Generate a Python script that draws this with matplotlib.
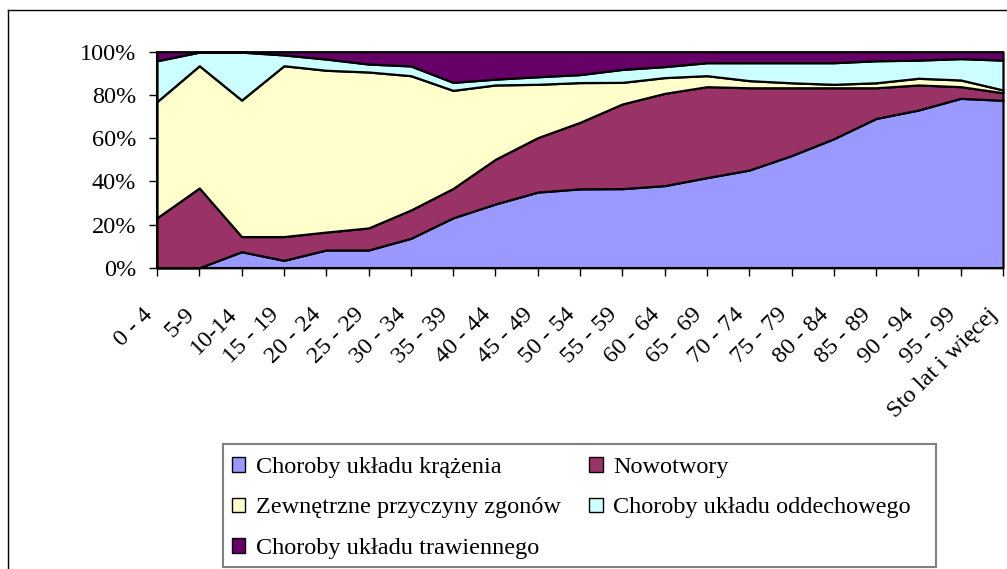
import numpy as np
import matplotlib
matplotlib.use("Agg")
import matplotlib.pyplot as plt
import matplotlib.transforms as mtransforms
from matplotlib.patches import Patch, Rectangle
from matplotlib.lines import Line2D

plt.rcParams['font.family'] = ['Liberation Serif', 'DejaVu Serif']

# age groups (x axis)
age_groups = ['0 - 4', '5-9', '10-14', '15 - 19', '20 - 24', '25 - 29', '30 - 34',
              '35 - 39', '40 - 44', '45 - 49', '50 - 54', '55 - 59', '60 - 64',
              '65 - 69', '70 - 74', '75 - 79', '80 - 84', '85 - 89', '90 - 94',
              '95 - 99', 'Sto lat i więcej']

# share of deaths (%)
krazenia = [0.0, 0.0, 7.4, 3.4, 8.2, 8.2, 13.6, 23.1, 29.5, 35.0, 36.5,
            36.6, 38.0, 41.7, 45.2, 51.9, 59.7, 69.1, 73.0, 78.4, 77.5]
nowotwory = [23.1, 36.9, 7.0, 11.0, 8.3, 10.2, 13.1, 13.6, 20.7, 25.2, 30.8,
             39.2, 42.7, 42.1, 38.1, 31.4, 23.6, 14.2, 11.6, 5.4, 3.5]
zewnetrzne = [53.8, 56.6, 63.2, 79.1, 74.9, 72.2, 62.2, 45.4, 34.4, 24.7, 18.4,
              10.0, 7.3, 5.1, 3.3, 2.3, 1.6, 2.3, 3.1, 3.1, 1.3]
oddechowy = [18.9, 6.3, 22.2, 5.0, 5.2, 3.7, 4.5, 3.7, 2.7, 3.5, 3.7,
             6.0, 5.1, 6.0, 8.3, 9.3, 10.0, 10.2, 8.4, 9.9, 13.8]
trawienny = [4.2, 0.2, 0.2, 1.5, 3.4, 5.7, 6.6, 14.2, 12.7, 11.6, 10.6,
             8.2, 6.9, 5.1, 5.1, 5.1, 5.1, 4.2, 3.9, 3.2, 3.9]

labels = ['Choroby układu krążenia', 'Nowotwory', 'Zewnętrzne przyczyny zgonów',
          'Choroby układu oddechowego', 'Choroby układu trawiennego']
colors = ['#9999FF', '#993366', '#FFFFCC', '#CCFFFF', '#660066']

W, H = 1007, 569
FS = 17.5
fig = plt.figure(figsize=(W / 100, H / 100), dpi=100)
ax = fig.add_axes([157 / W, 1 - 267.7 / H, (1003 - 157) / W, 216 / H])

data = np.array([krazenia, nowotwory, zewnetrzne, oddechowy, trawienny])
pct = data / data.sum(axis=0) * 100
x = np.arange(len(age_groups))
polys = ax.stackplot(x, pct, colors=colors, edgecolor='black', linewidth=1.6)
for p in polys:
    p.set_clip_on(False)

ax.set_xlim(0, len(age_groups) - 1)
ax.set_ylim(0, 100)
ax.set_yticks(range(0, 101, 20))
ax.set_yticklabels([f'{v}%' for v in range(0, 101, 20)])
ax.set_xticks(x)
ax.set_xticklabels(age_groups)
for s in ['top', 'right']:
    ax.spines[s].set_visible(False)
for s in ['left', 'bottom']:
    ax.spines[s].set_linewidth(1.5)
ax.tick_params(axis='both', direction='out', length=6, width=1, labelsize=FS)
ax.tick_params(axis='y', pad=9)
ax.tick_params(axis='x', pad=22)
shift = mtransforms.ScaledTranslation(-0.08, -0.05, fig.dpi_scale_trans)
for lbl in ax.get_xticklabels():
    lbl.set_rotation(45)
    lbl.set_ha('right')
    lbl.set_va('center')
    lbl.set_rotation_mode('anchor')
    lbl.set_transform(lbl.get_transform() + shift)

# legend (frame drawn separately)
handles = [Patch(facecolor=c, edgecolor='black', linewidth=1) for c in colors]
order = [0, 2, 4, 1, 3]
fig.legend([handles[i] for i in order], [labels[i] for i in order],
           ncol=2, loc='upper left', bbox_to_anchor=(232 / W, 1 - 457 / H),
           frameon=False, fontsize=FS, borderpad=0, borderaxespad=0,
           handlelength=0.55, handleheight=0.55, handletextpad=0.45,
           labelspacing=0.8, columnspacing=1.15)
fig.patches.append(Rectangle((223 / W, 1 - 567 / H), (936 - 223) / W, 123 / H,
                             transform=fig.transFigure, fill=False,
                             edgecolor='#808080', linewidth=1.5))

# outer chart border
fig.lines.append(Line2D([8 / W, 8 / W], [0, 1 - 10 / H], transform=fig.transFigure,
                        color='black', linewidth=1))
fig.lines.append(Line2D([8 / W, 1], [1 - 10 / H, 1 - 10 / H], transform=fig.transFigure,
                        color='black', linewidth=1))

fig.savefig('out.png', dpi=100)
